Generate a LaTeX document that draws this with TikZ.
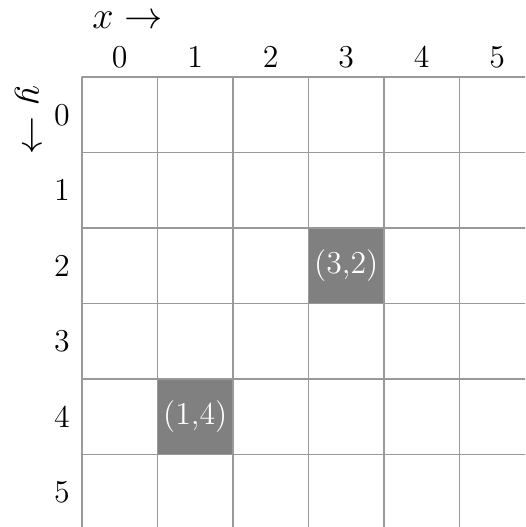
\documentclass[tikz,border=0pt]{standalone}
\usepackage{amssymb,amsmath}
\usepackage{tikz}
\definecolor{cellgray}{rgb}{0.5,0.5,0.5}
\definecolor{gridgray}{rgb}{0.6,0.6,0.6}
\begin{document}
\begin{tikzpicture}[line cap=round,line join=round,x=1.0cm,y=1.0cm,font=\large]
\useasboundingbox (-1.086,-5.96) rectangle (5.868,1.02);
\clip (-1.086,-5.96) rectangle (5.868,1.02);
% marked cells
\fill [cellgray] (3,-2) rectangle (4,-3);
\fill [cellgray] (1,-4) rectangle (2,-5);
\draw [gridgray, line width=0.5pt] (0,-6) grid (6,0);
\node [text=white] (c32) at (3.5,-2.5) {(3,2)};
\node [text=white] (c14) at (1.5,-4.5) {(1,4)};
% axis labels
\foreach \i in {0,...,5} {
  \node (col\i) at (\i+0.5,0.265) {\i};
  \node (row\i) at (-0.265,-\i-0.5) {\i};
}
\node [font=\Large, inner sep=0pt] (xlab) at (0.6,0.755) {$x \rightarrow$};
\node [font=\Large, inner sep=0pt, rotate=-90] (ylab) at (-0.73,-0.57) {$y \rightarrow$};
\end{tikzpicture}
\end{document}
